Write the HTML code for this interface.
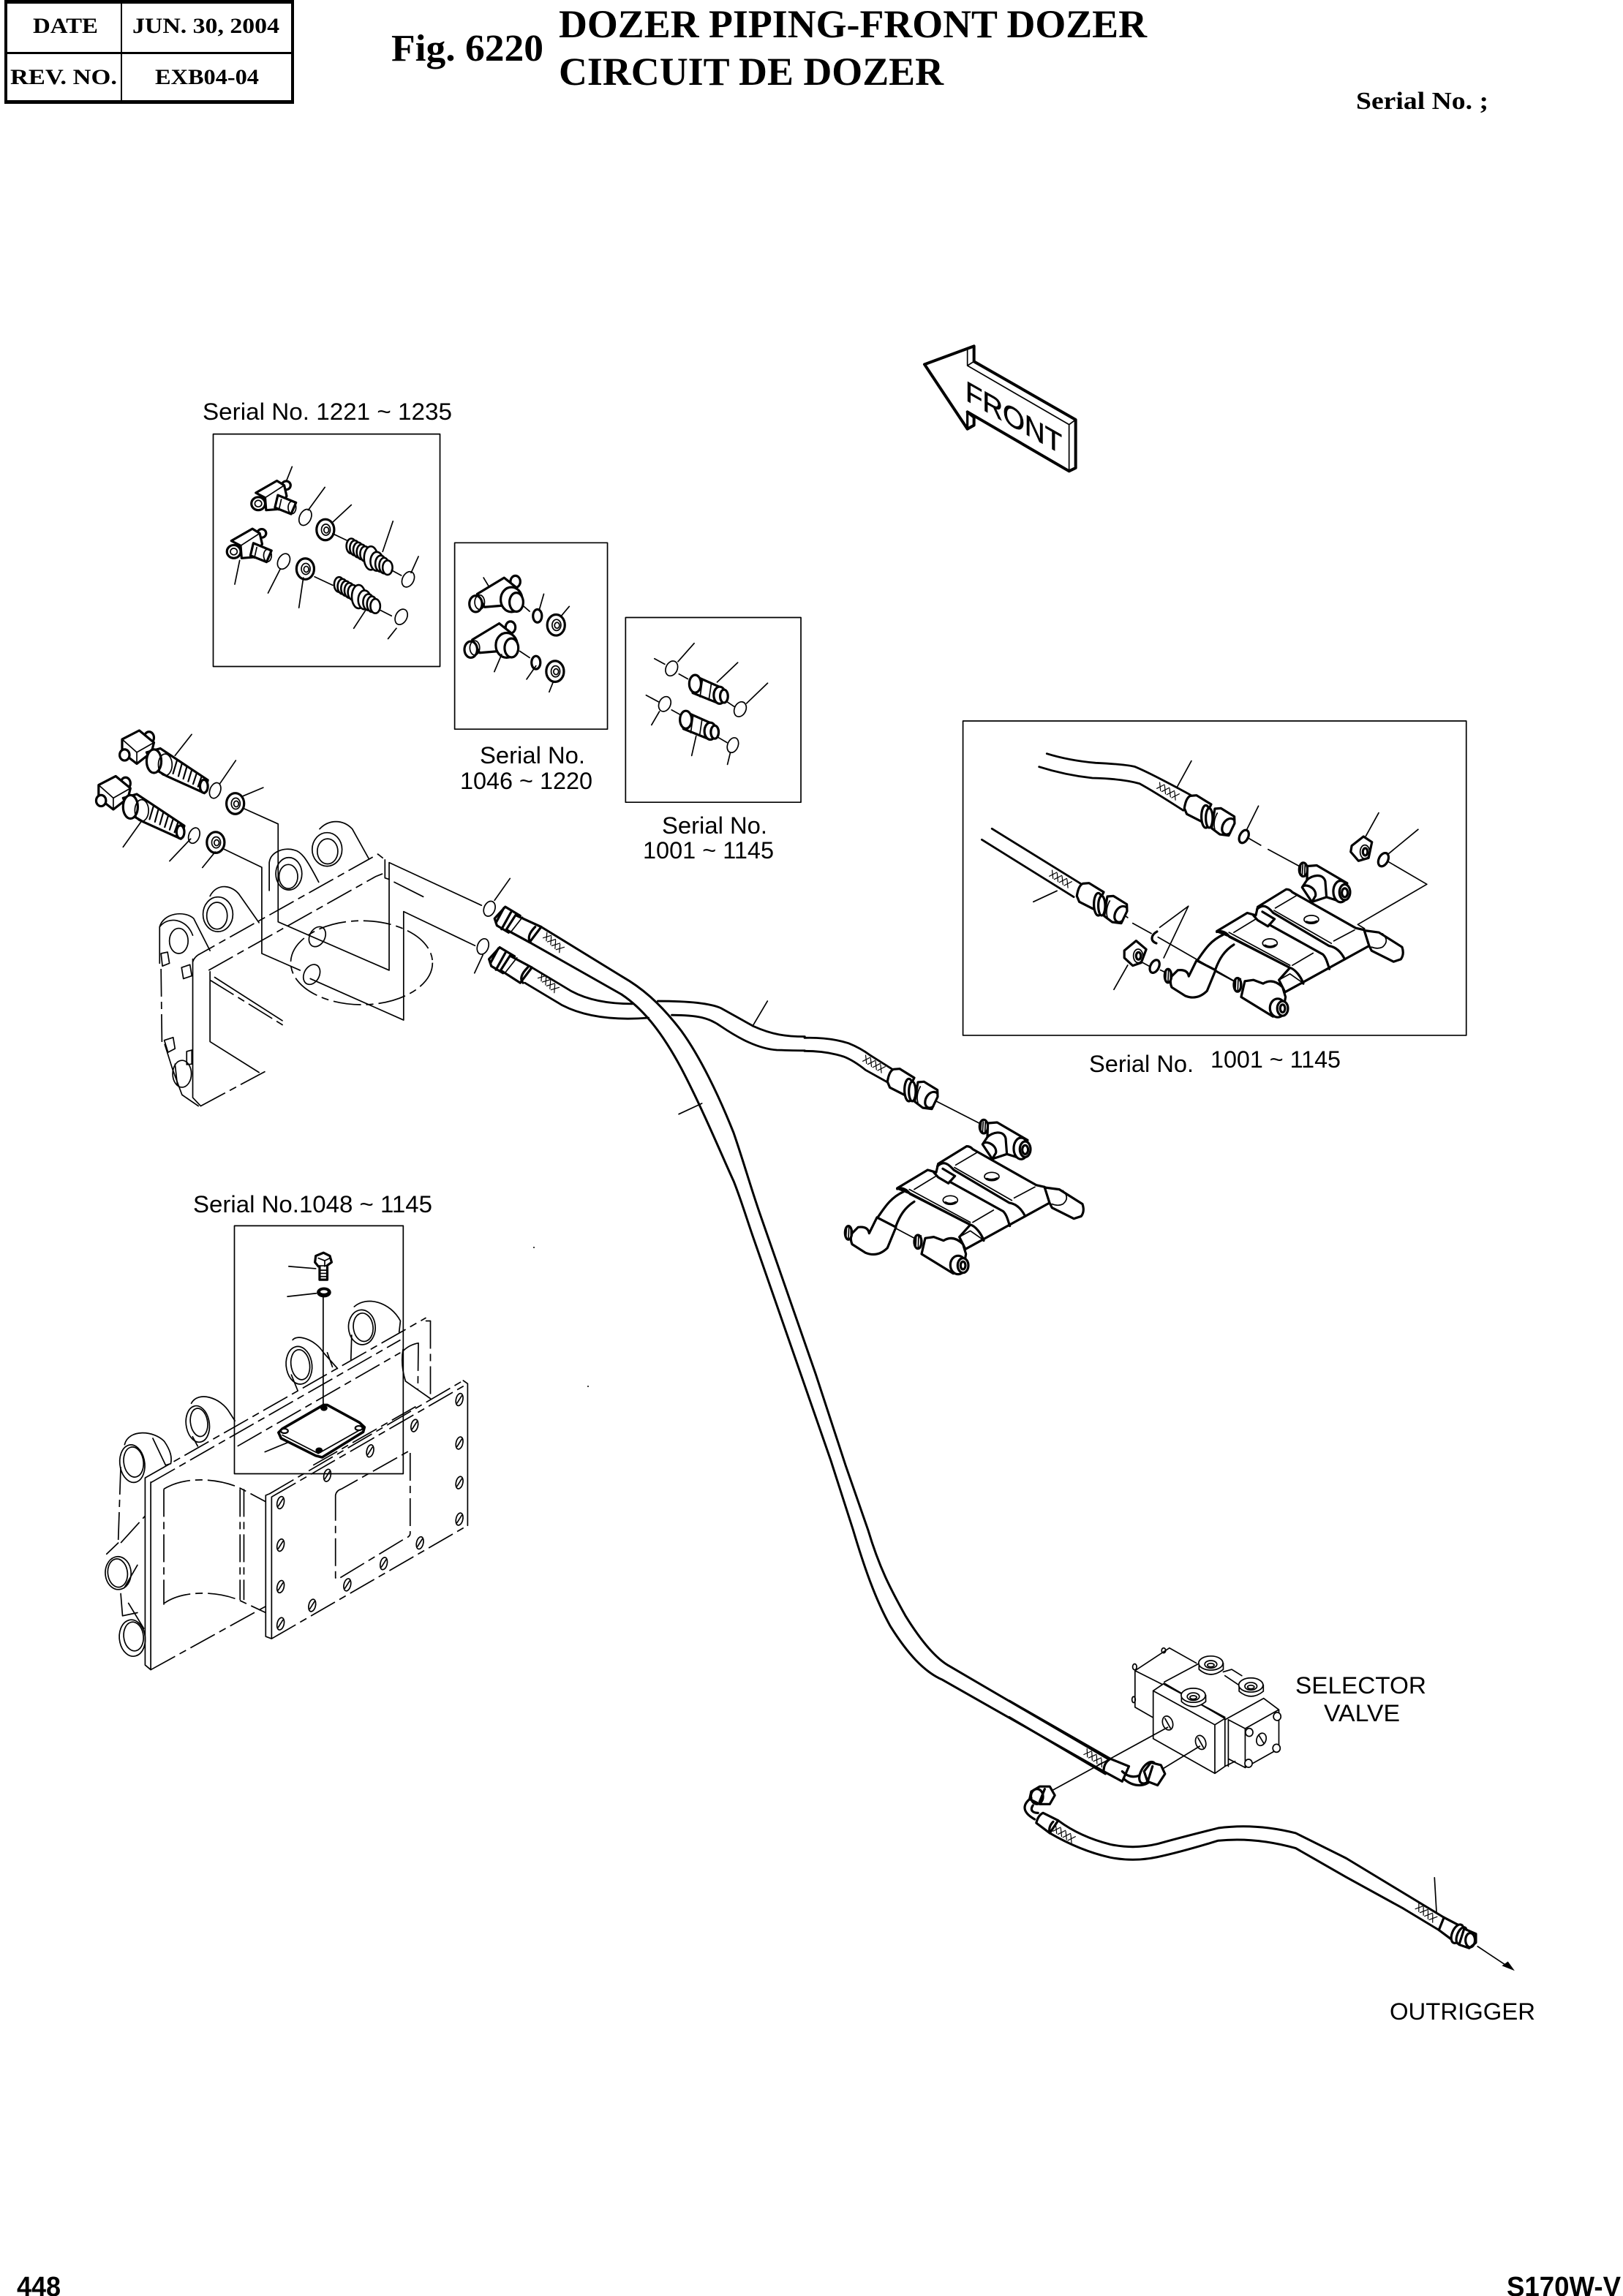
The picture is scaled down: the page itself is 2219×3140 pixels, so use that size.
<!DOCTYPE html>
<html><head><meta charset="utf-8"><title>Fig. 6220</title>
<style>
html,body{margin:0;padding:0;background:#fff}
svg{display:block}
svg *{vector-effect:non-scaling-stroke}
.l{fill:none;stroke:#000;stroke-width:1.7;stroke-linejoin:round;stroke-linecap:round}
.k{fill:none;stroke:#000;stroke-width:3.2;stroke-linejoin:round;stroke-linecap:round}
.l .w,.k .w,.w{fill:#fff}
.d{fill:none;stroke:#000;stroke-width:1.7;stroke-dasharray:38 7 10 7}
.s{font-family:"Liberation Sans",sans-serif;font-size:32px;fill:#000}
.t{font-family:"Liberation Serif",serif;font-weight:bold;fill:#000}
.b{font-family:"Liberation Sans",sans-serif;font-weight:bold;font-size:38px;fill:#000}
</style></head><body>
<svg xmlns="http://www.w3.org/2000/svg" width="2219" height="3140" viewBox="0 0 2219 3140">
<defs>
<g id="hatch" class="l" style="stroke-width:1.2"><path d="M-16,-4 L-9,5 M-9,-5 L-15,5 M-8,-4 L-1,5 M-1,-5 L-7,5 M0,-4 L7,5 M7,-5 L1,5 M8,-4 L15,5 M15,-5 L9,5"/></g>
<g id="hole" class="l"><ellipse cx="0" cy="0" rx="13" ry="20" transform="rotate(20)"/><path d="M-9,11 L9,-12"/></g>

<g id="elbowS">
 <ellipse class="k w" cx="435" cy="322" rx="9" ry="13"/>
 <path class="k w" d="M373,345 L416,308 L431,322 L436,355 L420,395 L394,398 L392,360 Z"/>
 <path class="l" d="M392,360 L431,322"/>
 <ellipse class="k w" cx="378" cy="378" rx="14" ry="20"/><ellipse class="l" cx="378" cy="378" rx="7" ry="10"/>
 <path class="k w" d="M418,352 L455,375 L445,410 L412,390 Z"/>
 <path class="l" d="M425,365 L420,398"/><ellipse class="l" cx="447" cy="390" rx="8" ry="19"/>
</g>
<g id="nipple">
 <g class="k" style="stroke-width:2.6"><ellipse class="w" cx="568" cy="508" rx="10" ry="23"/><ellipse class="w" cx="575" cy="514" rx="10" ry="23"/><ellipse class="w" cx="582" cy="520" rx="10" ry="23"/><ellipse class="w" cx="589" cy="526" rx="10" ry="23"/><ellipse class="w" cx="596" cy="532" rx="10" ry="23"/>
 <ellipse class="w" cx="608" cy="545" rx="14" ry="36"/><ellipse class="w" cx="620" cy="555" rx="13" ry="29"/><ellipse class="w" cx="628" cy="562" rx="11" ry="25"/><ellipse class="w" cx="635" cy="568" rx="10" ry="24"/><ellipse class="w" cx="642" cy="574" rx="10" ry="22"/></g>
</g>
<g id="teeB">
 <ellipse class="k w" cx="903" cy="617" rx="10" ry="18"/>
 <path class="k w" d="M825,655 L880,605 L905,635 L885,650 L880,690 L840,695 Z"/>
 <ellipse class="k w" cx="822" cy="685" rx="13" ry="25"/><ellipse class="l" cx="830" cy="680" rx="10" ry="22"/>
 <ellipse class="k w" cx="895" cy="672" rx="22" ry="38"/><ellipse class="k w" cx="905" cy="680" rx="14" ry="29"/>
</g>
<g id="nutZ2">
 <ellipse class="k w" cx="0" cy="0" rx="18" ry="32"/><ellipse class="l" cx="1" cy="0" rx="9" ry="17"/><ellipse class="l" cx="2" cy="1" rx="5" ry="9"/>
</g>
<g id="coup">
 <path class="k w" d="M1268,905 L1325,943 L1318,990 L1265,958 Z"/>
 <ellipse class="k w" cx="1270" cy="930" rx="12" ry="27"/>
 <path class="l" d="M1285,918 L1280,970 M1303,930 L1298,980"/>
 <ellipse class="k w" cx="1320" cy="965" rx="12" ry="26"/><ellipse class="k w" cx="1329" cy="968" rx="8" ry="20"/>
</g>
<g id="elbowL">
 <ellipse class="k w" cx="155" cy="1095" rx="10" ry="18"/>
 <path class="k w" d="M100,1100 L135,1073 L165,1110 L160,1140 L130,1175 L100,1140 Z"/>
 <path class="l" d="M100,1100 L130,1140 L165,1110 M130,1140 L130,1175"/>
 <ellipse class="k w" cx="105" cy="1148" rx="10" ry="17"/>
 <path class="k w" d="M150,1140 L178,1128 L205,1155 L275,1225 L268,1265 L190,1212 L165,1190 Z"/>
 <ellipse class="k w" cx="165" cy="1167" rx="15" ry="36"/>
 <ellipse class="l" cx="188" cy="1178" rx="14" ry="33"/>
 <path class="k" style="stroke-width:2.2" d="M212,1165 L204,1205 M222,1175 L215,1213 M232,1185 L225,1221 M242,1195 L235,1229 M252,1205 L245,1237 M262,1215 L255,1245"/>
 <ellipse class="k w" cx="267" cy="1244" rx="8" ry="20"/>
</g>
<g id="fit">
 <path class="k w" d="M340,238 C344,212 352,192 365,187 L390,185 L450,222 L415,295 L350,262 Z"/>
 <ellipse class="k w" cx="428" cy="272" rx="18" ry="46"/>
 <ellipse class="k w" cx="442" cy="278" rx="14" ry="40"/>
 <path class="k w" d="M465,240 L490,238 L545,272 L546,300 L522,350 L485,345 L452,320 Z"/>
 <path class="k" d="M545,285 C520,268 490,300 495,330 C500,346 515,350 527,340"/>
 <path class="l" d="M475,258 C465,275 458,300 465,325"/>
</g>
<g id="bracket">
 <ellipse class="k w" cx="735" cy="422" rx="17" ry="28"/>
 <path class="l" d="M725,405 L722,445 M733,402 L730,448 M742,400 L740,448"/>
 <path class="k w" d="M752,408 L790,405 L915,478 L890,555 L862,545 L830,535 L770,555 L730,495 L750,465 Z"/>
 <path class="k" d="M735,490 C750,480 790,500 785,530 L770,555 M750,465 C770,445 815,435 825,470 L830,535"/>
 <ellipse class="k w" cx="888" cy="512" rx="30" ry="44"/>
 <ellipse class="k w" cx="905" cy="515" rx="22" ry="32"/><ellipse class="k" cx="905" cy="517" rx="12" ry="18"/>
 <path class="k w" d="M548,575 L665,503 Q680,503 690,515 L950,662 L985,670 L1005,735 L660,925 L635,875 L680,825 L430,695 L380,675 L505,600 L540,610 Z"/>
 <path class="k" d="M545,585 C570,560 590,575 612,600 L840,735 C870,740 890,760 905,790"/>
 <path class="k" d="M380,678 C400,670 420,680 432,698 L680,825 C700,830 725,860 735,890"/>
 <path class="k" d="M595,648 L815,770 C830,785 835,810 842,830"/>
 <path class="k" d="M530,610 L548,630 L590,655 L617,625 L567,595"/>
 <path class="l" d="M430,680 L680,815 M615,590 L850,725 M635,875 L680,850 L730,885"/>
 <path class="l" d="M450,680 L540,625 M620,580 L705,530 M860,715 L945,670 M690,815 L775,765"/>
 <ellipse class="l w" cx="768" cy="627" rx="30" ry="17"/><path class="k" d="M748,637 Q768,645 790,635"/>
 <ellipse class="l w" cx="598" cy="724" rx="30" ry="18"/><path class="k" d="M578,734 Q598,745 620,733"/>
 <path class="k w" d="M985,672 L1045,680 L1140,740 Q1150,770 1135,790 L1105,800 L1015,755 L1005,735 Z"/>
 <path class="l" d="M1060,685 Q1090,715 1060,740 Q1040,750 1015,740"/>
 <path class="k" d="M405,690 C350,715 325,760 300,795 M450,730 C410,755 390,790 375,830"/>
 <path class="k w" d="M297,795 L375,835 L340,920 Q300,960 250,940 L195,905 Q185,880 195,860 L220,835 Q260,830 265,860 Z"/>
 <ellipse class="k w" cx="180" cy="858" rx="14" ry="28"/>
 <path class="l" d="M172,840 L170,878 M182,835 L180,882 M190,835 L190,880 M375,840 L450,880"/>
 <ellipse class="k w" cx="465" cy="895" rx="15" ry="28"/>
 <path class="l" d="M458,875 L456,915 M468,870 L466,920 M478,870 L476,920"/>
 <path class="k w" d="M495,880 L530,875 L570,890 Q610,865 650,905 L662,945 L650,1015 L610,1025 L480,945 Z"/>
 <ellipse class="k w" cx="630" cy="990" rx="32" ry="38"/><ellipse class="k w" cx="650" cy="992" rx="22" ry="30"/><ellipse class="k" cx="650" cy="992" rx="10" ry="16"/>
</g>
</defs>

<!-- header table -->
<g>
 <rect x="6" y="0" width="396" height="5" fill="#000"/>
 <rect x="6" y="0" width="4" height="142" fill="#000"/>
 <rect x="398" y="0" width="4" height="142" fill="#000"/>
 <rect x="6" y="71" width="396" height="3" fill="#000"/>
 <rect x="6" y="137" width="396" height="5" fill="#000"/>
 <rect x="165" y="0" width="2" height="142" fill="#000"/>
</g>
<g class="t" font-size="30">
 <text x="45" y="45" textLength="89" lengthAdjust="spacingAndGlyphs">DATE</text>
 <text x="181" y="45" textLength="201" lengthAdjust="spacingAndGlyphs">JUN. 30, 2004</text>
 <text x="14" y="115" textLength="146" lengthAdjust="spacingAndGlyphs">REV. NO.</text>
 <text x="212" y="115" textLength="142" lengthAdjust="spacingAndGlyphs">EXB04-04</text>
</g>
<text class="t" x="535" y="83" font-size="52" textLength="208" lengthAdjust="spacingAndGlyphs">Fig. 6220</text>
<text class="t" x="764" y="51" font-size="54" textLength="804" lengthAdjust="spacingAndGlyphs">DOZER PIPING-FRONT DOZER</text>
<text class="t" x="764" y="116" font-size="54" textLength="526" lengthAdjust="spacingAndGlyphs">CIRCUIT DE DOZER</text>
<text class="t" x="1854" y="149" font-size="34" textLength="181" lengthAdjust="spacingAndGlyphs">Serial No. ;</text>

<!-- labels -->
<text class="s" x="277" y="574" textLength="341" lengthAdjust="spacingAndGlyphs">Serial No. 1221 ~ 1235</text>
<text class="s" x="656" y="1044" textLength="144" lengthAdjust="spacingAndGlyphs">Serial No.</text>
<text class="s" x="629" y="1079" textLength="181" lengthAdjust="spacingAndGlyphs">1046 ~ 1220</text>
<text class="s" x="905" y="1140" textLength="144" lengthAdjust="spacingAndGlyphs">Serial No.</text>
<text class="s" x="879" y="1174" textLength="179" lengthAdjust="spacingAndGlyphs">1001 ~ 1145</text>
<text class="s" x="1489" y="1466" textLength="143" lengthAdjust="spacingAndGlyphs">Serial No.</text>
<text class="s" x="1655" y="1460" textLength="178" lengthAdjust="spacingAndGlyphs">1001 ~ 1145</text>
<text class="s" x="264" y="1658" textLength="327" lengthAdjust="spacingAndGlyphs">Serial No.1048 ~ 1145</text>
<text class="s" x="1771" y="2316" textLength="179" lengthAdjust="spacingAndGlyphs">SELECTOR</text>
<text class="s" x="1810" y="2354" textLength="104" lengthAdjust="spacingAndGlyphs">VALVE</text>
<text class="s" x="1900" y="2762" textLength="199" lengthAdjust="spacingAndGlyphs">OUTRIGGER</text>
<text class="b" x="23" y="3140" textLength="60" lengthAdjust="spacingAndGlyphs">448</text>
<text class="b" x="2060" y="3140" textLength="156" lengthAdjust="spacingAndGlyphs">S170W-V</text>
<circle cx="730" cy="1706" r="1" fill="#000"/><circle cx="804" cy="1896" r="1" fill="#000"/>

<!-- FRONT arrow -->
<g transform="translate(1240 450) scale(.3333)">
 <path class="k" style="stroke-width:4" d="M72,145 L275,70 L275,133 L692,372 L692,570 L665,583 L248,340 L275,362 L275,395 L248,410 Z"/>
 <path class="l" d="M248,85 L248,150 L275,133 M248,150 L665,392 L692,372 M665,392 L665,583"/>
 <path class="k" d="M248,340 L248,410"/>
</g>
<text transform="matrix(1 .567 0 1 1320 547)" font-family="Liberation Sans,sans-serif" font-size="39" stroke="#000" stroke-width=".7" textLength="132" lengthAdjust="spacingAndGlyphs">FRONT</text>

<!-- Z2 insets -->
<g transform="translate(100 520) scale(.6696 .4464)">
 <rect class="l" x="286" y="165" width="463" height="712"/>
 <rect class="l" x="779" y="498" width="312" height="571"/>
 <rect class="l" x="1128" y="727" width="358" height="566"/>
 <use href="#elbowS"/><use href="#elbowS" transform="translate(-50 147)"/>
 <use href="#nipple"/><use href="#nipple" transform="translate(-25 118)"/>
 <use href="#nutZ2" transform="translate(515 458)"/><use href="#nutZ2" transform="translate(474 578)"/>
 <g class="l">
  <ellipse cx="474" cy="420" rx="12" ry="25" transform="rotate(12 474 420)"/>
  <ellipse cx="430" cy="555" rx="12" ry="24" transform="rotate(12 430 555)"/>
  <ellipse cx="684" cy="610" rx="12" ry="24" transform="rotate(12 684 610)"/>
  <ellipse cx="670" cy="725" rx="12" ry="24" transform="rotate(12 670 725)"/>
  <path d="M447,265 L435,310 M514,328 L480,398 M568,382 L530,435 M653,432 L632,525 M705,540 L690,590 M340,552 L330,625 M423,578 L398,652 M470,605 L461,697 M597,705 L573,760 M660,760 L643,792 M530,470 L558,490 M650,582 L670,598 M493,602 L530,628 M628,705 L650,722"/>
 </g>
 <use href="#teeB"/><use href="#teeB" transform="translate(-10 140)"/>
 <ellipse class="k w" cx="948" cy="722" rx="9" ry="20"/><ellipse class="k w" cx="945" cy="865" rx="9" ry="20"/>
 <use href="#nutZ2" transform="translate(986 750)"/><use href="#nutZ2" transform="translate(984 892)"/>
 <g class="l"><path d="M838,605 L848,630 M961,655 L952,702 M1013,693 L995,725 M875,840 L860,893 M945,875 L926,916 M980,925 L972,955 M918,690 L932,708 M912,830 L932,850"/>
  <path d="M1268,806 L1235,862 M1187,853 L1208,870 M1357,865 L1315,925 M1418,928 L1375,990 M1170,965 L1195,985 M1197,1015 L1181,1056 M1272,1090 L1263,1150 M1342,1140 L1336,1177 M1237,900 L1255,915 M1335,985 L1350,1000 M1222,1010 L1240,1025 M1318,1095 L1335,1110"/>
  <ellipse cx="1222" cy="883" rx="12" ry="23" transform="rotate(10 1222 883)"/>
  <ellipse cx="1362" cy="1008" rx="12" ry="23" transform="rotate(10 1362 1008)"/>
  <ellipse cx="1208" cy="992" rx="12" ry="23" transform="rotate(10 1208 992)"/>
  <ellipse cx="1347" cy="1118" rx="11" ry="23" transform="rotate(10 1347 1118)"/>
 </g>
 <use href="#coup"/><use href="#coup" transform="translate(-19 110)"/>
 <use href="#elbowL"/><use href="#elbowL" transform="translate(-48 140)"/>
 <use href="#nutZ2" transform="translate(331 1297)"/><use href="#nutZ2" transform="translate(291 1416)"/>
 <g class="l">
  <ellipse cx="290" cy="1257" rx="11" ry="24" transform="rotate(10 290 1257)"/>
  <ellipse cx="247" cy="1395" rx="11" ry="24" transform="rotate(10 247 1395)"/>
  <path d="M242,1085 L208,1150 M332,1165 L300,1235 M388,1248 L345,1275 M140,1350 L102,1430 M240,1405 L197,1473 M290,1445 L264,1493"/>
 </g>
</g>

<!-- Z3 rear frame + hoses -->
<g transform="translate(150 950) scale(.6378 .3827)">
 <g class="l">
  <path d="M285,405 L361,462 L361,812 L599,985 L599,600 L797,753 M610,670 L672,722"/>
  <path d="M245,552 L326,617 L326,925 L408,985 M430,1015 L630,1163 L630,775 L783,897"/>
  <path d="M342,700 L342,600 C345,560 375,545 395,555 C410,560 420,580 448,670"/>
  <ellipse cx="383" cy="650" rx="20" ry="43"/><ellipse cx="384" cy="640" rx="28" ry="58"/>
  <ellipse cx="467" cy="560" rx="22" ry="45"/><ellipse cx="466" cy="553" rx="32" ry="60"/>
  <path d="M450,480 C470,445 500,445 520,480 L555,585"/>
  <ellipse cx="230" cy="790" rx="22" ry="48"/><ellipse cx="232" cy="785" rx="32" ry="62"/>
  <path d="M215,720 C230,670 265,680 280,720 L320,815"/>
  <ellipse cx="148" cy="880" rx="20" ry="45"/>
  <path d="M107,960 L107,830 C115,780 160,770 180,800 L215,915 M107,830 C125,790 165,800 178,860"/>
  <path d="M178,945 L178,1440 L195,1470 M118,1250 L135,1340 L155,1430 L190,1470 M215,990 L215,1240 L320,1350 M590,590 L590,655 L599,660"/>
  <ellipse cx="445" cy="865" rx="17" ry="36" transform="rotate(10 445 865)"/>
  <ellipse cx="433" cy="1000" rx="17" ry="36" transform="rotate(10 433 1000)"/>
  <path d="M110,925 L124,920 L128,960 L113,970 Z M154,975 L172,965 L176,1005 L158,1015 Z M117,1235 L136,1225 L140,1265 L125,1278 Z M165,1275 L176,1270 L176,1320 L165,1322 Z"/>
  <ellipse cx="155" cy="1355" rx="20" ry="48"/>
  <path d="M140,1320 L145,1395"/>
  <path d="M225,1010 L370,1165"/>
 </g>
 <g class="d">
  <path d="M178,955 Q182,935 195,925 L575,570 L590,590"/>
  <path d="M212,985 L570,650 L585,640"/>
  <path d="M215,1020 L380,1190 M195,1470 L335,1345 M110,980 L112,1250"/>
  <ellipse cx="540" cy="958" rx="152" ry="150"/>
 </g>
 <g class="l"><ellipse cx="814" cy="765" rx="12" ry="27" transform="rotate(8 814 765)"/><ellipse cx="800" cy="900" rx="12" ry="28" transform="rotate(8 800 900)"/>
  <path d="M858,657 L825,735 M800,930 L782,995 M1410,1095 L1378,1185"/></g>
 <!-- hose 2 -->
 <g class="k" style="stroke-width:2.8">
  <path d="M905,975 L990,1060 Q1040,1105 1120,1105"/>
  <path d="M890,1030 L970,1110 Q1040,1170 1155,1155"/>
  <path d="M1175,1095 C1250,1095 1290,1105 1310,1120 L1380,1185 C1420,1215 1450,1222 1490,1222"/>
  <path d="M1205,1145 C1260,1145 1285,1155 1310,1185 C1350,1230 1390,1265 1430,1270 Q1470,1272 1490,1272"/>
 </g>
 <!-- main hose start -->
 <g class="k" style="stroke-width:3">
  <path d="M925,830 L1097,1006"/>
  <path d="M900,885 L1097,1071"/>
 </g>
 <g id="f3a">
  <path class="k w" d="M825,800 L848,758 L880,790 L855,850 L830,825 Z"/>
  <path class="k" d="M845,762 L828,815 M860,778 L840,838"/>
  <path class="k w" d="M870,788 L925,830 L900,885 L850,840 Z"/>
  <path class="l" d="M885,795 L860,848"/>
  <path class="k" d="M912,830 C900,850 895,870 902,885"/>
 </g>
 <g transform="translate(-12 145)">
  <path class="k w" d="M825,800 L848,758 L880,790 L855,850 L830,825 Z"/>
  <path class="k" d="M845,762 L828,815 M860,778 L840,838"/>
  <path class="k w" d="M870,788 L917,830 L892,885 L850,840 Z"/>
  <path class="l" d="M885,795 L860,848"/>
  <path class="k" d="M908,830 C896,850 890,870 898,885"/>
 </g>
</g>

<!-- hatches -->
<use href="#hatch" transform="translate(757 1289) rotate(42)"/>
<use href="#hatch" transform="translate(750 1344) rotate(42)"/>
<use href="#hatch" transform="translate(1195 1455) rotate(32)"/>
<use href="#hatch" transform="translate(1597 1082) rotate(32)"/>
<use href="#hatch" transform="translate(1450 1202) rotate(32)"/>
<use href="#hatch" transform="translate(1497 2404) rotate(35)"/>
<use href="#hatch" transform="translate(1455 2508) rotate(32)"/>
<use href="#hatch" transform="translate(1950 2616) rotate(38)"/>

<!-- Z5 lower bracket and hose end -->
<g transform="translate(1100 1400) scale(.3333)">
 <g class="k" style="stroke-width:2.8">
  <path d="M0,58 Q100,55 180,80 Q230,100 270,130 L365,190"/>
  <path d="M0,112 Q90,112 160,135 Q200,150 250,190 L340,240"/>
 </g>
 <path class="l" d="M525,310 L720,410"/>
 <use href="#fit"/>
 <use href="#bracket"/>
</g>

<!-- Z11 long hose -->
<g transform="translate(850 1300) scale(.5102 .7334)">
 <g class="k" style="stroke-width:3">
  <path d="M0,48 C50,68 100,95 160,150 C210,198 260,270 300,340 C325,390 345,440 370,490 L440,630 L520,790 L600,960 L660,1080 C690,1150 720,1190 760,1240 C800,1285 840,1320 880,1335 L1310,1510"/>
  <path d="M0,82 C60,110 110,155 160,220 C220,300 270,385 300,430 C320,465 335,500 350,530 L420,670 L500,830 L560,950 L620,1080 C650,1150 680,1210 720,1260 C765,1310 810,1345 860,1360 L1290,1530"/>
 </g>
 <path class="l" d="M153,305 L215,285"/>
</g>

<!-- Z4 right inset -->
<g transform="translate(1300 970) scale(.4606 .3333)">
 <rect class="l" x="36" y="48" width="1494" height="1290"/>
 <g class="k" style="stroke-width:2.8">
  <path d="M285,182 Q350,210 430,220 Q510,225 545,235 Q590,260 712,352"/>
  <path d="M262,236 Q340,270 420,282 Q510,285 560,305 Q600,335 690,415"/>
  <path d="M122,490 L385,715"/>
  <path d="M92,535 L365,770"/>
 </g>
 <g class="l">
  <path d="M714,212 L672,318 M913,397 L878,495 M885,530 L920,558 M942,575 L1040,648 M1270,425 L1232,520 M1387,493 L1300,592 M1298,625 L1413,718 L1208,883 L1228,900 M245,790 L315,745 M510,840 L525,855 M540,878 L595,920 M615,935 L845,1118 M525,1050 L484,1150 M705,808 L620,895 M705,808 L632,1020 M570,1040 L590,1055 M622,1070 L635,1078"/>
 </g>
 <ellipse class="k" cx="870" cy="522" rx="13" ry="27" transform="rotate(15 870 522)"/>
 <ellipse class="k" cx="1284" cy="617" rx="14" ry="28" transform="rotate(15 1284 617)"/>
 <path class="k" d="M612,912 C595,925 590,950 610,960"/>
 <ellipse class="k" cx="605" cy="1055" rx="13" ry="27" transform="rotate(15 605 1055)"/>
 <path class="k w" d="M1190,560 L1225,522 L1250,545 L1240,610 L1210,622 L1187,585 Z"/>
 <ellipse class="l" cx="1229" cy="585" rx="14" ry="28"/><ellipse class="k" cx="1230" cy="585" rx="7" ry="15"/>
 <path class="k w" d="M515,990 L550,950 L580,985 L565,1040 L540,1052 L515,1020 Z"/>
 <ellipse class="l" cx="556" cy="1012" rx="14" ry="28"/><ellipse class="k" cx="557" cy="1012" rx="7" ry="15"/>
</g>
<g transform="translate(1100 1400) scale(.3333)">
 <use href="#fit" transform="translate(1218 -1122)"/>
 <use href="#fit" transform="translate(777 -762)"/>
 <use href="#bracket" transform="translate(1311 -1054.5)"/>
</g>

<!-- Z6 lower frame -->
<g transform="translate(130 1620) scale(.3508 .4337)">
 <rect class="l" x="543" y="130" width="658" height="782"/>
 <g class="d">
  <path d="M195,925 L1290,420"/>
  <path d="M217,940 L1190,490"/>
  <path d="M555,825 L1190,530"/>
  <path d="M217,1530 L665,1330"/>
  <path d="M100,890 L90,1130 M100,1130 L195,1045"/>
  <path d="M268,960 L268,1325"/>
  <path d="M268,960 C350,920 470,925 560,955 L665,1000"/>
  <path d="M270,1320 C340,1280 470,1280 560,1310 L665,1350"/>
  <path d="M565,960 L565,1310 M580,960 L580,1310"/>
  <path d="M680,975 L1435,618"/>
  <path d="M688,985 L1452,628"/>
  <path d="M688,1432 L1452,1075"/>
  <path d="M850,885 L1250,700"/>
  <path d="M937,980 Q940,965 960,960 L1228,838 L1228,1100 Q1228,1110 1210,1115 L945,1245 L937,1240 Z"/>
  <path d="M1307,430 L1307,675 M1260,500 L1258,645"/>
 </g>
 <g class="l">
  <path d="M195,925 L195,1515 L217,1530 L217,938"/>
  <path d="M665,980 L665,1425 L688,1432 L688,985 M665,980 L680,975 M1435,618 L1452,628 L1452,1075"/>
  <path d="M1307,675 L1210,620 M1200,520 Q1190,570 1210,620 M1200,525 Q1225,505 1260,500 M1290,430 L1307,430"/>
  <ellipse cx="145" cy="880" rx="48" ry="60" transform="rotate(-15 145 880)"/>
  <ellipse cx="150" cy="875" rx="38" ry="48" transform="rotate(-15 150 875)"/>
  <path d="M115,820 C130,770 230,775 270,810 C295,840 300,860 295,880 L275,885 L225,800"/>
  <ellipse cx="400" cy="755" rx="45" ry="58" transform="rotate(-15 400 755)"/>
  <ellipse cx="405" cy="750" rx="33" ry="45" transform="rotate(-15 405 750)"/>
  <path d="M375,690 C400,650 490,670 525,720 L545,745 M400,825 L380,795"/>
  <ellipse cx="795" cy="570" rx="50" ry="60" transform="rotate(-15 795 570)"/>
  <ellipse cx="800" cy="568" rx="36" ry="48" transform="rotate(-15 800 568)"/>
  <path d="M770,490 C790,470 860,490 890,530 L945,580 M905,530 L925,575 M790,650 L765,600"/>
  <ellipse cx="1040" cy="450" rx="52" ry="55" transform="rotate(-15 1040 450)"/>
  <ellipse cx="1045" cy="450" rx="38" ry="45" transform="rotate(-15 1045 450)"/>
  <path d="M1010,385 C1060,350 1150,370 1190,430 L1185,465 M1000,475 L997,555"/>
  <ellipse cx="90" cy="1225" rx="50" ry="52" transform="rotate(-15 90 1225)"/>
  <ellipse cx="88" cy="1225" rx="38" ry="45" transform="rotate(-15 88 1225)"/>
  <path d="M45,1165 L90,1130 M115,1270 L165,1200"/>
  <ellipse cx="145" cy="1430" rx="50" ry="58" transform="rotate(-15 145 1430)"/>
  <ellipse cx="150" cy="1425" rx="38" ry="46" transform="rotate(-15 150 1425)"/>
  <path d="M100,1290 L107,1360 M130,1320 L190,1400 M107,1360 L165,1350"/>
  <path d="M755,258 L860,265 M750,353 L862,343 M662,843 L755,812 M889,355 L889,695"/>
 </g>
 <use href="#hole" transform="translate(723 1003)"/><use href="#hole" transform="translate(723 1137)"/><use href="#hole" transform="translate(723 1268)"/><use href="#hole" transform="translate(723 1385)"/><use href="#hole" transform="translate(846 1327)"/><use href="#hole" transform="translate(983 1262)"/><use href="#hole" transform="translate(1125 1195)"/><use href="#hole" transform="translate(1266 1130)"/><use href="#hole" transform="translate(1420 1055)"/><use href="#hole" transform="translate(1420 940)"/><use href="#hole" transform="translate(1420 815)"/><use href="#hole" transform="translate(1420 678)"/><use href="#hole" transform="translate(1245 760)"/><use href="#hole" transform="translate(1072 840)"/><use href="#hole" transform="translate(905 917)"/>
 <path class="k w" d="M860,225 L890,215 L915,225 L922,245 L900,258 L870,258 L857,245 Z"/>
 <path class="k w" d="M875,258 L875,300 L905,300 L905,258"/>
 <path class="l" d="M875,270 L905,270 M875,280 L905,280 M875,290 L905,290 M870,232 L895,240 L915,232 M895,240 L895,258"/>
 <ellipse cx="892" cy="340" rx="28" ry="16" fill="#000"/><ellipse cx="892" cy="338" rx="14" ry="5" fill="#fff"/>
 <path class="k w" style="stroke-width:3.6" d="M890,695 L730,770 L715,782 L725,800 L860,855 L885,860 L1045,780 L1050,765 L1030,750 L905,695 Z"/>
 <path class="l" d="M730,790 L870,848 L1040,770"/>
 <ellipse cx="892" cy="705" rx="14" ry="9" fill="#000"/>
 <ellipse cx="738" cy="777" rx="14" ry="7" fill="#fff" stroke="#000" stroke-width="2.2"/>
 <ellipse cx="1028" cy="768" rx="14" ry="7" fill="#fff" stroke="#000" stroke-width="2.2"/>
 <ellipse cx="873" cy="838" rx="14" ry="9" fill="#000"/>
</g>

<!-- Z7 valve + lower hose -->
<g transform="translate(1380 2240) scale(.4606 .3444)">
 <g class="l">
  <path d="M373,130 L475,40 L555,100 M373,130 L373,275 L425,315 M373,130 L455,185 M460,175 L565,100"/>
  <ellipse cx="458" cy="50" rx="6" ry="10"/><ellipse cx="372" cy="115" rx="6" ry="12"/><ellipse cx="369" cy="245" rx="5" ry="12"/>
  <path class="w" d="M427,210 L460,180 L640,320 L640,510 L610,538 L427,400 Z"/>
  <path d="M427,210 L610,345 L610,538 M610,345 L640,320 M460,185 L640,315 M650,325 L650,510 M640,510 L670,490 M650,480 L700,515"/>
  <path d="M650,325 L700,360 L800,285 L755,240 M700,360 L700,515 L800,440 L800,285 M635,135 L660,125 L690,150 M640,150 L690,195 M755,240 L640,325"/>
  <g class="w">
   <ellipse cx="712" cy="375" rx="11" ry="16"/><ellipse cx="795" cy="312" rx="11" ry="16"/><ellipse cx="793" cy="438" rx="11" ry="16"/><ellipse cx="710" cy="498" rx="11" ry="16"/>
  </g>
  <ellipse cx="748" cy="403" rx="14" ry="25" transform="rotate(10 748 403)"/>
  <ellipse cx="470" cy="338" rx="15" ry="28" transform="rotate(-10 470 338)"/>
  <ellipse cx="568" cy="415" rx="15" ry="28" transform="rotate(-10 568 415)"/>
  <path d="M462,320 L478,358 M560,397 L576,435 M740,385 L756,420"/>
  <path d="M470,355 L128,605 M565,430 L455,520"/>
  <g id="p">
   <path class="w" d="M563,100 L563,125 Q598,165 635,125 L635,100"/><ellipse class="w" cx="598" cy="100" rx="36" ry="28"/><ellipse cx="598" cy="105" rx="18" ry="15"/><ellipse cx="598" cy="108" rx="10" ry="7"/>
  </g>
  <use href="#p" transform="translate(119 87)"/>
  <use href="#p" transform="translate(-52 128)"/>
 </g>
 <g class="k" style="stroke-width:3">
  <path d="M0,250 L300,480"/><path d="M0,315 L285,540"/>
  <path d="M145,725 Q210,790 300,820 Q370,840 440,818 Q500,795 620,755 Q730,735 850,775 L1000,875 L1290,1110"/>
  <path d="M120,775 Q210,845 300,872 Q370,890 440,870 Q510,850 620,805 Q730,790 850,835 L1000,950 L1170,1075 L1275,1160"/>
 </g>
 <path class="l" d="M1262,952 L1268,1090 M1390,1225 L1480,1305"/>
 <path d="M1500,1322 L1462,1302 L1480,1285 Z" fill="#000"/>
 <g class="k">
  <path class="w" d="M300,480 L355,510 L335,570 L280,530 Q280,495 300,480 Z"/>
  <path d="M335,530 C350,550 370,560 395,540 M340,560 C370,595 405,590 420,565"/>
  <ellipse class="w" cx="410" cy="535" rx="20" ry="45" transform="rotate(20 410 535)"/>
  <path class="w" d="M420,495 L450,505 L462,540 L440,585 L410,570 L400,530 Z"/>
  <path d="M425,510 L412,565"/>
  <path class="w" d="M90,590 L120,590 L135,625 L120,660 L90,660 L60,640 L65,610 Z"/>
  <ellipse cx="82" cy="630" rx="18" ry="30"/><path d="M105,600 L90,650"/>
  <path d="M65,635 C40,660 35,690 75,720 M70,665 C60,685 70,695 85,695"/>
  <path class="w" d="M100,695 L145,725 L120,775 L80,735 Q85,705 100,695 Z"/>
  <path d="M130,730 Q115,750 120,775"/>
  <path class="w" d="M1290,1110 L1340,1145 L1310,1195 L1275,1160 Z"/>
  <ellipse class="w" cx="1330" cy="1175" rx="16" ry="38" transform="rotate(15 1330 1175)"/>
  <ellipse class="w" cx="1342" cy="1182" rx="13" ry="34" transform="rotate(15 1342 1182)"/>
  <path class="w" d="M1350,1155 L1385,1175 L1385,1210 L1365,1232 L1335,1218 Z"/>
  <ellipse cx="1368" cy="1200" rx="14" ry="28"/>
 </g>
</g>
</svg>
</body></html>
